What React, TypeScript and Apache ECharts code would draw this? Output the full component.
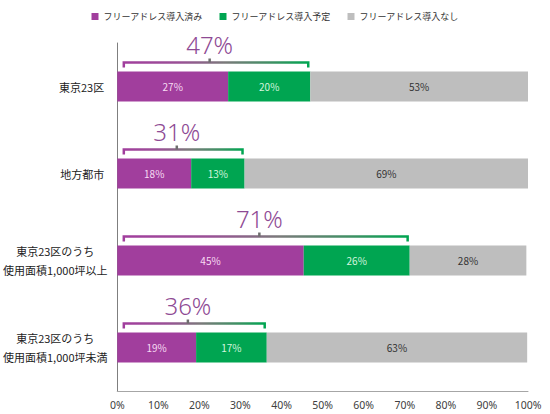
import React, { useEffect, useRef } from "react";
import * as echarts from "echarts";

const categories = [
  "東京23区",
  "地方都市",
  "東京23区のうち\n使用面積1,000坪以上",
  "東京23区のうち\n使用面積1,000坪未満",
];
const seriesNames = ["フリーアドレス導入済み", "フリーアドレス導入予定", "フリーアドレス導入なし"];
const introduced = [27, 18, 45.4, 19.2];
const planned = [20, 13, 25.8, 17.2];
const none = [53, 69, 28.4, 63.4];
const xTicks = [0, 10, 20, 30, 40, 50, 60, 70, 80, 90, 100];

const PURPLE = "#A13E9D";
const GREEN = "#00A551";
const GRAY = "#BEBEBE";
const JP = "'Noto Sans CJK JP', 'Noto Sans', sans-serif";

export default function App() {
  const ref = useRef<HTMLDivElement>(null);
  useEffect(() => {
    document.body.style.margin = "0";
    const chart = echarts.init(ref.current!, null, { renderer: "svg" });
    const totals = introduced.map((v, i) => v + planned[i]);
    const barLabel = (color: string) => ({
      show: true,
      position: "inside",
      color,
      fontSize: 10,
      fontFamily: JP,
      formatter: (p: any) => `${Math.round(p.value)}%`,
    });
    chart.setOption({
      animation: false,
      textStyle: { fontFamily: JP },
      legend: {
        top: 7,
        left: "center",
        icon: "rect",
        itemWidth: 7,
        itemHeight: 7,
        itemGap: 17,
        textStyle: { fontSize: 9, color: "#333", fontFamily: JP },
        data: seriesNames,
      },
      grid: { left: 115, right: 22, top: 43, bottom: 23, containLabel: false },
      xAxis: {
        type: "value",
        min: xTicks[0],
        max: xTicks[xTicks.length - 1],
        interval: 10,
        axisLine: { show: true, lineStyle: { color: "#a6a6a6", width: 1 } },
        axisTick: { show: false },
        splitLine: { show: false },
        axisLabel: {
          formatter: "{value}%",
          color: "#404040",
          fontSize: 10.5,
          margin: 8,
          fontFamily: "'Noto Sans', sans-serif",
        },
      },
      yAxis: {
        type: "category",
        inverse: true,
        data: categories,
        axisLine: { show: true, lineStyle: { color: "#7f7f7f", width: 1 } },
        axisTick: { show: false },
        axisLabel: {
          margin: 13,
          align: "right",
          color: "#222",
          fontSize: 11,
          lineHeight: 19,
          fontFamily: JP,
          formatter: (v: string) => {
            const lines = v.split("\n");
            if (lines.length === 1) return v;
            return lines.map((l) => `{c|${l}}`).join("\n");
          },
          rich: {
            c: { width: 98, align: "center", fontSize: 11, lineHeight: 19, color: "#222", fontFamily: JP },
          },
        },
      },
      series: [
        {
          name: seriesNames[0],
          type: "bar",
          stack: "t",
          barWidth: 30,
          data: introduced,
          itemStyle: { color: PURPLE },
          label: barLabel("#F7DBF3"),
        },
        {
          name: seriesNames[1],
          type: "bar",
          stack: "t",
          barWidth: 30,
          data: planned,
          itemStyle: { color: GREEN },
          label: barLabel("#D4F5DE"),
        },
        {
          name: seriesNames[2],
          type: "bar",
          stack: "t",
          barWidth: 30,
          data: none,
          itemStyle: { color: GRAY },
          label: barLabel("#333"),
        },
        {
          type: "custom",
          clip: false,
          silent: true,
          data: totals.map((t, i) => [t, i]),
          encode: { x: 0, y: 1 },
          renderItem: (params: any, api: any) => {
            const total = api.value(0);
            const cat = api.value(1);
            const y = api.coord([0, cat])[1];
            const x0 = api.coord([1.6, cat])[0];
            const x1 = api.coord([total - 0.5, cat])[0];
            const xt = api.coord([total / 2 - 1, cat])[0];
            const by = y - 24;
            const grad = new echarts.graphic.LinearGradient(
              x0, 0, x1, 0,
              [
                { offset: 0, color: "#A13E9D" },
                { offset: 0.3, color: "#9a5096" },
                { offset: 0.55, color: "#7a7a7a" },
                { offset: 0.8, color: "#3f9064" },
                { offset: 1, color: "#00A551" },
              ],
              true
            );
            return {
              type: "group",
              children: [
                {
                  type: "polyline",
                  shape: { points: [[x0, by + 5], [x0, by], [x1, by], [x1, by + 5]] },
                  style: { stroke: grad, lineWidth: 2.5, fill: "none" },
                },
                {
                  type: "line",
                  shape: { x1: xt, y1: by, x2: xt, y2: by - 4 },
                  style: { stroke: "#6e6e6e", lineWidth: 2.5 },
                },
                {
                  type: "text",
                  style: {
                    x: xt,
                    y: by - 6,
                    text: `${Math.round(total)}%`,
                    align: "center",
                    verticalAlign: "bottom",
                    fontSize: 24,
                    fontFamily: "'Noto Sans', sans-serif",
                    fontWeight: 300,
                    fill: "#8E4A94",
                  },
                },
              ],
            };
          },
        },
      ],
    });
    return () => chart.dispose();
  }, []);
  return <div ref={ref} style={{ width: 550, height: 414 }} />;
}
